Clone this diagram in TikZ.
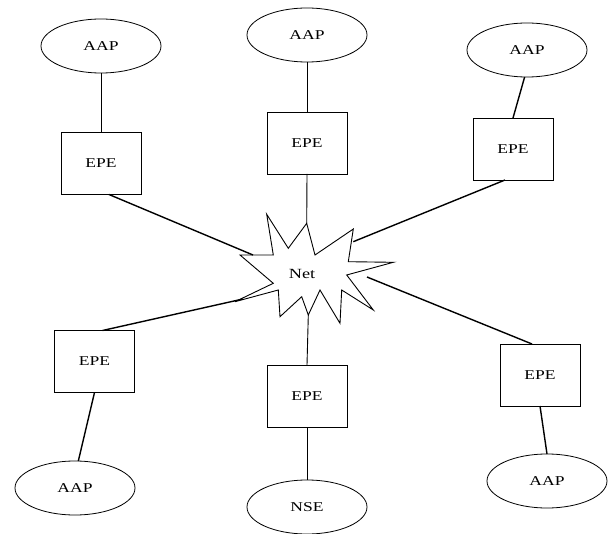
\documentclass[tikz,border=0pt]{standalone}
\usepackage{fontspec}
\setmainfont{Liberation Serif}[FakeStretch=1.3]
\usetikzlibrary{shapes.geometric}
\begin{document}
\begin{tikzpicture}[x=1pt,y=-1pt,
  ell/.style={draw, ellipse, minimum width=120pt, minimum height=54pt, inner sep=0pt, outer sep=0pt, line width=0.8pt, font=\fontsize{13.5}{15}\selectfont},
  box/.style={draw, rectangle, minimum width=80pt, minimum height=62pt, inner sep=0pt, outer sep=0pt, line width=0.8pt, font=\fontsize{13.5}{15}\selectfont},
  link/.style={line width=0.9pt},
  netlink/.style={line width=1.4pt}]
\useasboundingbox (0,0) rectangle (613,534);
\fill[white] (0,0) rectangle (613,534);
% star
\draw[line width=0.9pt, fill=white]
  (240,255) -- (273.3,255) -- (266.7,214.3) -- (288.3,248.3) -- (306.7,223.3)
  -- (315,255) -- (353.3,229) -- (348.3,261.7) -- (393.3,262.3) -- (346.7,275)
  -- (373.3,310) -- (341.7,290) -- (340,323.3) -- (320,290) -- (308.3,315)
  -- (301.7,296.7) -- (280,316.7) -- (278.3,290) -- (235,301.7) -- (273.3,283.3) -- cycle;
\node[font=\fontsize{14}{16}\selectfont, inner sep=0pt] (net) at (302,274) {Net};
\coordinate (s1) at (253,255);
\coordinate (s2) at (306.7,223.3);
\coordinate (s3) at (353.3,241.7);
\coordinate (s4) at (243,299);
\coordinate (s5) at (308.3,315);
\coordinate (s6) at (367,277);
% ellipses
\node[ell] (a1) at (101,46) {AAP};
\node[ell] (a2) at (307,35) {AAP};
\node[ell] (a3) at (527,50) {AAP};
\node[ell] (a4) at (75,488) {AAP};
\node[ell] (nse) at (307,507) {NSE};
\node[ell] (a6) at (547,481) {AAP};
% boxes
\node[box] (e1) at (101,163.5) {EPE};
\node[box] (e2) at (307,143) {EPE};
\node[box] (e3) at (513,149) {EPE};
\node[box] (e4) at (94.5,361.5) {EPE};
\node[box] (e5) at (307,396) {EPE};
\node[box] (e6) at (540,375) {EPE};
% AAP links
\draw[link] (a1.south) -- (e1.north);
\draw[link] (a2.south) -- (e2.north);
\draw[netlink] (a3.265) -- (e3.north);
\draw[netlink] (e4.south) -- (a4.83);
\draw[link] (e5.south) -- (nse.north);
\draw[netlink] (e6.south) -- (a6.north);
% net links
\draw[netlink] ([xshift=8pt]e1.south) -- (s1);
\draw[link] (e2.south) -- (s2);
\draw[netlink] ([xshift=-8pt]e3.south) -- (s3);
\draw[netlink] ([xshift=8pt]e4.north) -- (s4);
\draw[link] (e5.north) -- (s5);
\draw[netlink] ([xshift=-8pt]e6.north) -- (s6);
\end{tikzpicture}
\end{document}
